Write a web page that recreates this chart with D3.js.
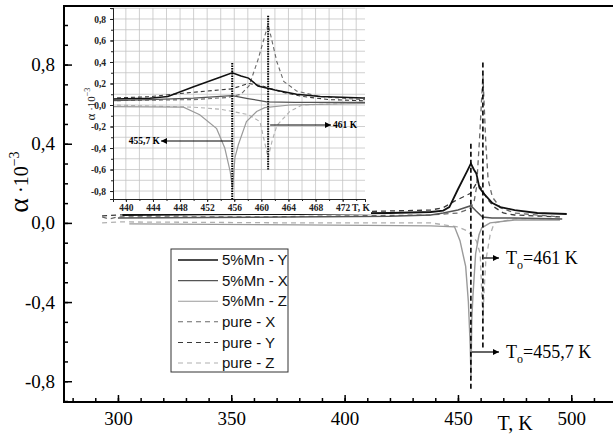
<html>

<head>
    <meta charset="utf-8">
    <title>alpha(T) 5%Mn / pure</title>
    <style>
        body { margin: 0; background: #fff; }
    </style>
</head>

<body>
    <script src="https://cdn.jsdelivr.net/npm/d3@7/dist/d3.min.js"></script>
    <script>
        var width = 613, height = 435;

        // каждая точка: [T, K ; alpha * 10^3]
        const mnY = [[302, 0.04], [340, 0.043], [380, 0.045], [420, 0.05], [438, 0.055], [443.5, 0.062], [446.2, 0.08],
            [450, 0.17], [454, 0.26], [455.7, 0.30], [457, 0.27], [458.1, 0.25], [459.5, 0.177], [462, 0.14],
            [465.2, 0.10], [468.7, 0.08], [475, 0.065], [485, 0.05], [498, 0.045]];
        const mnX = [[300, 0.025], [360, 0.028], [420, 0.033], [438, 0.04], [443.5, 0.05], [450, 0.065], [455.7, 0.087],
            [458, 0.06], [460.8, 0.03], [465, 0.025], [475, 0.025], [496, 0.02]];
        const mnZ = [[305, -0.005], [380, -0.01], [438, -0.015], [448.5, -0.02], [450.9, -0.09], [453.4, -0.22],
            [454.6, -0.40], [455.4, -0.62], [455.75, -0.78], [456.1, -0.49], [456.6, -0.37], [457.8, -0.155],
            [459.3, -0.06], [460.5, -0.025], [464.2, 0.0], [475, 0.015], [495, 0.015]];
        const pureX = [[293, 0.03], [296, 0.02], [300, 0.03], [360, 0.03], [438, 0.04], [450, 0.05], [455, 0.07],
            [457, 0.1], [458.2, 0.18], [459.5, 0.42], [461, 0.75], [462.3, 0.4], [463.3, 0.22], [465.2, 0.13],
            [468.7, 0.077], [475, 0.05], [495, 0.03]];
        const pureY = [[293, 0.035], [300, 0.04], [360, 0.045], [438, 0.065], [443.5, 0.077], [448.5, 0.11],
            [455.6, 0.15], [458.1, 0.2], [460, 0.18], [463, 0.12], [466, 0.08], [470, 0.05], [475, 0.04], [495, 0.03]];
        const pureZ = [[293, 0.0], [300, 0.005], [380, 0.0], [438, 0.0], [450, -0.02], [454, -0.04], [455.75, -0.06],
            [458.1, -0.09], [459.8, -0.155], [460.6, -0.38], [461, -0.49], [461.6, -0.33], [462.3, -0.19],
            [464.2, -0.06], [466, 0.0], [475, 0.02], [495, 0.02]];

        const seriesNames = ["5%Mn - Y", "5%Mn - X", "5%Mn - Z", "pure - X", "pure - Y", "pure - Z"];
        const seriesData = [mnY, mnX, mnZ, pureX, pureY, pureZ];

        const mainXTicks = [300, 350, 400, 450, 500];
        const mainYTicks = [-0.8, -0.4, 0.0, 0.4, 0.8];
        const insetXTicks = [440, 444, 448, 452, 456, 460, 464, 468, 472];
        const insetYTicks = [-0.8, -0.6, -0.4, -0.2, 0.0, 0.2, 0.4, 0.6, 0.8];
        const tTrans = [455.7, 461];

        // стили линий
        var colors = ["#111", "#555", "#9a9a9a", "#6a6a6a", "#3a3a3a", "#b0b0b0"];
        var widths = [1.8, 1.5, 1.4, 1.3, 1.3, 1.3];
        var dashes = [null, null, null, "5,4", "5,4", "5,4"];

        var fmt = function (v) { return v.toFixed(1).replace(".", ","); };

        var svg = d3.select("body").append("svg")
            .attr("width", width)
            .attr("height", height)
            .style("font-family", "'Liberation Serif', 'Times New Roman', serif");

        var defs = svg.append("defs");
        defs.append("marker")
            .attr("id", "arr")
            .attr("viewBox", "0 0 10 10")
            .attr("refX", 10).attr("refY", 5)
            .attr("markerWidth", 8).attr("markerHeight", 6)
            .attr("markerUnits", "userSpaceOnUse")
            .attr("orient", "auto")
            .append("path").attr("d", "M0,0L10,5L0,10z").attr("fill", "#000");

        // ---------- основной график ----------
        var L = 64, T = 6, R = 613, B = 402;
        var x = d3.scaleLinear().domain([276.2, 518.4]).range([L, R]);
        var y = d3.scaleLinear().domain([-0.905, 1.096]).range([B, T]);

        defs.append("clipPath").attr("id", "mainclip")
            .append("rect").attr("x", L).attr("y", T).attr("width", R - L).attr("height", B - T);

        var line = d3.line().x(d => x(d[0])).y(d => y(d[1]));

        var mainG = svg.append("g").attr("clip-path", "url(#mainclip)");
        // обратный порядок, чтобы чёрная линия была сверху
        for (var i = seriesData.length - 1; i >= 0; i--) {
            mainG.append("path")
                .datum(seriesData[i])
                .attr("d", line)
                .attr("fill", "none")
                .attr("stroke", colors[i])
                .attr("stroke-width", widths[i])
                .attr("stroke-dasharray", dashes[i]);
        }

        // вертикальные линии T0
        var vTop = [0.40, 0.81], vBot = [-0.85, -0.63];
        for (var k = 0; k < 2; k++) {
            svg.append("line")
                .attr("x1", x(tTrans[k])).attr("x2", x(tTrans[k]))
                .attr("y1", y(vTop[k])).attr("y2", y(vBot[k]))
                .attr("stroke", "#000").attr("stroke-width", 1.6)
                .attr("stroke-dasharray", "5,3");
        }

        // оси (засечки внутрь)
        var yMinor = svg.append("g").attr("transform", "translate(" + L + ",0)")
            .call(d3.axisLeft(y).tickValues(d3.range(-9, 11).map(v => v / 10)).tickSize(-4).tickFormat(""));
        var yMajor = svg.append("g").attr("transform", "translate(" + L + ",0)")
            .call(d3.axisLeft(y).tickValues(mainYTicks).tickSize(-8).tickPadding(9).tickFormat(fmt));
        var xMinor = svg.append("g").attr("transform", "translate(0," + B + ")")
            .call(d3.axisBottom(x).tickValues(d3.range(280, 520, 10)).tickSize(-4).tickFormat(""));
        var xMajor = svg.append("g").attr("transform", "translate(0," + B + ")")
            .call(d3.axisBottom(x).tickValues(mainXTicks).tickSize(-7).tickPadding(10).tickFormat(d3.format("d")));

        [yMinor, yMajor, xMinor, xMajor].forEach(function (g) {
            g.select(".domain").remove();
            g.selectAll(".tick line").attr("stroke", "#000").attr("stroke-width", 1.5);
            g.selectAll("text").attr("fill", "#000").attr("font-size", "19px")
                .attr("font-family", "'Liberation Serif', serif");
        });

        // рамка
        svg.append("path")
            .attr("d", "M" + R + "," + T + "H" + L + "V" + B + "H" + R)
            .attr("fill", "none").attr("stroke", "#000").attr("stroke-width", 2);

        svg.append("text")
            .attr("x", 515).attr("y", 430)
            .attr("text-anchor", "middle")
            .attr("font-size", "20px")
            .text("T, K");

        var ylab = svg.append("text")
            .attr("transform", "translate(28,182) rotate(-90)")
            .attr("text-anchor", "middle")
            .attr("font-size", "20px");
        ylab.append("tspan").attr("font-size", "28px").text("α");
        ylab.append("tspan").text(" ·10");
        ylab.append("tspan").attr("font-size", "14px").attr("dy", -9).text("−3");

        // подписи T0
        var annY = [352, 258], annTxt = ["=455,7 K", "=461 K"];
        for (var k = 0; k < 2; k++) {
            svg.append("line")
                .attr("x1", x(tTrans[k]) + 1).attr("x2", 499)
                .attr("y1", annY[k]).attr("y2", annY[k])
                .attr("stroke", "#000").attr("stroke-width", 1.2)
                .attr("marker-end", "url(#arr)");
            var t = svg.append("text")
                .attr("x", 506).attr("y", annY[k] + 6)
                .attr("font-size", "18px");
            t.append("tspan").text("T");
            t.append("tspan").attr("font-size", "12px").attr("dy", 5).text("o");
            t.append("tspan").attr("dy", -5).text(annTxt[k]);
        }

        // легенда
        var lg = svg.append("g");
        lg.append("rect")
            .attr("x", 171).attr("y", 249).attr("width", 117).attr("height", 123)
            .attr("fill", "#fff").attr("stroke", "#333").attr("stroke-width", 1);
        seriesNames.forEach(function (name, i) {
            var yy = 260 + i * 20.6;
            lg.append("line")
                .attr("x1", 178).attr("x2", 218).attr("y1", yy).attr("y2", yy)
                .attr("stroke", colors[i]).attr("stroke-width", widths[i] * 0.8)
                .attr("stroke-dasharray", dashes[i]);
            lg.append("text")
                .attr("x", 222).attr("y", yy).attr("dy", "0.35em")
                .attr("font-family", "'Liberation Sans', Arial, sans-serif")
                .attr("font-size", "15px")
                .attr("fill", "#111")
                .text(name);
        });

        // ---------- вставка ----------
        var iL = 113, iT = 8, iR = 365, iB = 199;
        var ix = d3.scaleLinear().domain([438.1, 475.3]).range([iL, iR]);
        var iy = d3.scaleLinear().domain([-0.874, 0.902]).range([iB, iT]);

        var ins = svg.append("g");
        ins.append("rect").attr("x", 78).attr("y", iT).attr("width", iR - 78 + 6).attr("height", 206)
            .attr("fill", "#fff");

        // сетка
        ins.append("g").selectAll("line")
            .data(d3.range(440, 475.4, 2))
            .enter().append("line")
            .attr("x1", d => ix(d)).attr("x2", d => ix(d))
            .attr("y1", iT).attr("y2", iB)
            .attr("stroke", "#c4c4c4").attr("stroke-width", 0.8);
        ins.append("g").selectAll("line")
            .data(d3.range(-8, 10).map(v => v / 10))
            .enter().append("line")
            .attr("x1", iL).attr("x2", iR)
            .attr("y1", d => iy(d)).attr("y2", d => iy(d))
            .attr("stroke", "#c4c4c4").attr("stroke-width", 0.8);

        defs.append("clipPath").attr("id", "insclip")
            .append("rect").attr("x", iL).attr("y", iT).attr("width", iR - iL).attr("height", iB - iT);

        var iline = d3.line().x(d => ix(d[0])).y(d => iy(d[1]));
        var insG = ins.append("g").attr("clip-path", "url(#insclip)");
        for (var i = seriesData.length - 1; i >= 0; i--) {
            insG.append("path")
                .datum(seriesData[i])
                .attr("d", iline)
                .attr("fill", "none")
                .attr("stroke", colors[i])
                .attr("stroke-width", widths[i] * 0.85)
                .attr("stroke-dasharray", dashes[i] ? "4,3" : null);
        }

        var ivTop = [0.39, 0.83], ivBot = [-0.874, -0.6];
        for (var k = 0; k < 2; k++) {
            ins.append("line")
                .attr("x1", ix(tTrans[k])).attr("x2", ix(tTrans[k]))
                .attr("y1", iy(ivTop[k])).attr("y2", iy(ivBot[k]))
                .attr("stroke", "#000").attr("stroke-width", 2)
                .attr("stroke-dasharray", "1.5,1");
        }

        // стрелки во вставке
        ins.append("line")
            .attr("x1", ix(tTrans[0])).attr("x2", 161).attr("y1", 141).attr("y2", 141)
            .attr("stroke", "#000").attr("stroke-width", 1)
            .attr("marker-end", "url(#arr)");
        ins.append("text").attr("x", 160).attr("y", 141).attr("dy", "0.35em")
            .attr("text-anchor", "end").attr("font-size", "9.5px").attr("font-weight", "bold")
            .text("455,7 K");
        ins.append("line")
            .attr("x1", ix(tTrans[1]) + 2).attr("x2", 331).attr("y1", 125).attr("y2", 125)
            .attr("stroke", "#000").attr("stroke-width", 1)
            .attr("marker-end", "url(#arr)");
        ins.append("text").attr("x", 333).attr("y", 125).attr("dy", "0.35em")
            .attr("font-size", "9.5px").attr("font-weight", "bold")
            .text("461 K");

        var iyAx = ins.append("g").attr("transform", "translate(" + iL + ",0)")
            .call(d3.axisLeft(iy).tickValues(insetYTicks).tickSize(3).tickPadding(4).tickFormat(fmt));
        var iyMin = ins.append("g").attr("transform", "translate(" + iL + ",0)")
            .call(d3.axisLeft(iy).tickValues(d3.range(-8, 10).map(v => v / 10)).tickSize(2).tickFormat(""));
        var ixAx = ins.append("g").attr("transform", "translate(0," + iB + ")")
            .call(d3.axisBottom(ix).tickValues(insetXTicks).tickSize(3).tickPadding(2).tickFormat(d3.format("d")));
        var ixMin = ins.append("g").attr("transform", "translate(0," + iB + ")")
            .call(d3.axisBottom(ix).tickValues(d3.range(440, 475.4, 2)).tickSize(2).tickFormat(""));
        [iyAx, iyMin, ixAx, ixMin].forEach(function (g) {
            g.select(".domain").attr("stroke", "#222").attr("stroke-width", 1);
            g.selectAll(".tick line").attr("stroke", "#222");
            g.selectAll("text").attr("fill", "#222").attr("font-size", "9.5px").attr("font-weight", "bold")
                .attr("font-family", "'Liberation Serif', serif");
        });

        ins.append("text").attr("x", 352).attr("y", 211)
            .attr("font-size", "9.5px").attr("font-weight", "bold").attr("fill", "#222")
            .text("T, K");

        var iylab = ins.append("text")
            .attr("transform", "translate(95,104) rotate(-90)")
            .attr("text-anchor", "middle")
            .attr("font-size", "11px").attr("fill", "#222");
        iylab.append("tspan").attr("font-size", "13px").text("α");
        iylab.append("tspan").text(" ·10");
        iylab.append("tspan").attr("font-size", "8px").attr("dy", -5).text("−3");
    </script>
</body>

</html>
